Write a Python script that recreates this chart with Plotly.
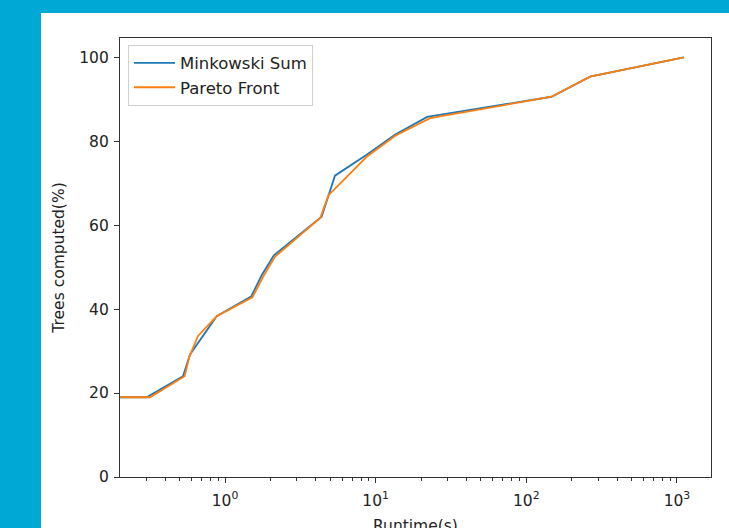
import plotly.graph_objects as go

# Runtime (s) vs. cumulative share of trees computed (%)
mink_runtime = [0.1, 0.302, 0.526, 0.586, 0.881, 1.49, 1.76, 2.11, 4.38, 5.37, 8.72, 13.5, 22.0, 147, 265, 1110]
mink_percent = [19.0, 19.0, 24.0, 29.2, 38.3, 43.0, 48.2, 52.8, 62.0, 71.8, 76.8, 81.6, 85.8, 90.6, 95.4, 100.0]

pareto_runtime = [0.1, 0.318, 0.54, 0.58, 0.662, 0.881, 1.52, 1.79, 2.15, 4.30, 4.85, 8.72, 13.5, 23.0, 147, 265, 1110]
pareto_percent = [19.0, 19.0, 24.0, 28.7, 33.6, 38.3, 42.8, 47.7, 52.5, 61.8, 67.1, 76.3, 81.3, 85.5, 90.6, 95.4, 100.0]

decade_ticks = [1, 10, 100, 1000]
decade_labels = ["10<sup>0</sup>", "10<sup>1</sup>", "10<sup>2</sup>", "10<sup>3</sup>"]
y_ticks = [0, 20, 40, 60, 80, 100]

minor_ticks = [m * 10 ** e for e in (-1, 0, 1, 2) for m in range(2, 10)]

FONT = "DejaVu Sans"
FS = 15.5
TXT = "#222222"
W, H = 729, 528
ML, MR, MT, MB = 120, 18, 38, 51

fig = go.Figure()
fig.add_trace(go.Scatter(x=mink_runtime, y=mink_percent, mode="lines",
                         name="Minkowski Sum",
                         line=dict(color="#1f77b4", width=1.8)))
fig.add_trace(go.Scatter(x=pareto_runtime, y=pareto_percent, mode="lines",
                         name="Pareto Front",
                         line=dict(color="#ff7f0e", width=1.8)))

pw = W - ML - MR
ph = H - MT - MB
# white card over the blue page background (left/top blue border)
fig.add_shape(type="rect", xref="paper", yref="paper", layer="below",
              x0=(41 - ML) / pw, x1=(W - ML + 20) / pw,
              y0=-(MB + 20) / ph, y1=1 + (MT - 13) / ph,
              fillcolor="white", line=dict(width=0))

# x-axis title sits low, partly running off the bottom of the page
fig.add_annotation(text="Runtime(s)", xref="paper", yref="paper", x=0.5, y=0,
                   xanchor="center", yanchor="middle", yshift=-49, showarrow=False,
                   font=dict(family=FONT, size=FS, color=TXT))

axis_common = dict(showline=True, linecolor="#333333", linewidth=1.1, mirror=True,
                   showgrid=False, zeroline=False, ticks="outside", ticklen=5,
                   tickwidth=1, tickcolor="#333333", automargin=False,
                   tickfont=dict(family=FONT, size=FS, color=TXT))

fig.update_xaxes(type="log", range=[-0.697, 3.226], tickmode="array",
                 tickvals=decade_ticks, ticktext=decade_labels,
                 ticklabelstandoff=4,
                 minor=dict(ticks="outside", ticklen=3, tickwidth=1, tickcolor="#333333",
                            tickmode="array", tickvals=minor_ticks),
                 **axis_common)
fig.update_yaxes(range=[0, 104.6], tickmode="array", tickvals=y_ticks,
                 ticklabelstandoff=2,
                 title=dict(text="Trees computed(%)", font=dict(family=FONT, size=FS, color=TXT), standoff=10),
                 **axis_common)

fig.update_layout(
    width=W, height=H,
    margin=dict(l=ML, r=MR, t=MT, b=MB, pad=0, autoexpand=False),
    paper_bgcolor="#00a8d6", plot_bgcolor="white",
    font=dict(family=FONT, size=FS, color=TXT),
    legend=dict(x=0.0135, y=0.985, xanchor="left", yanchor="top",
                bgcolor="white", bordercolor="#d0d0d0", borderwidth=1,
                font=dict(family=FONT, size=16.5, color=TXT),
                itemwidth=41),
    showlegend=True,
)

fig.write_html("out.html")
